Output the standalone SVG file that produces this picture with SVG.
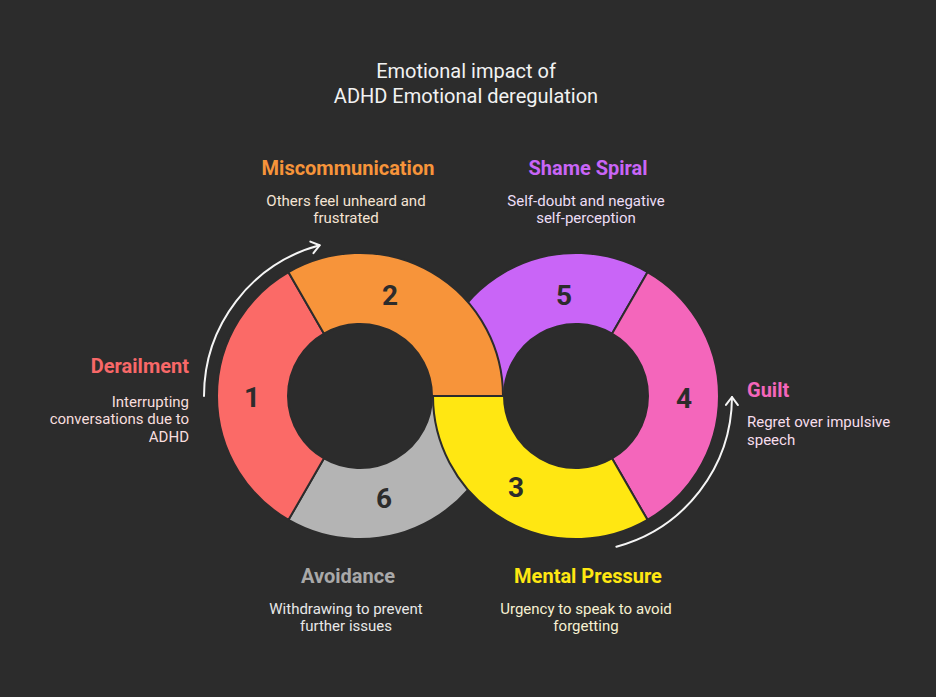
<svg xmlns="http://www.w3.org/2000/svg" width="936" height="697" viewBox="0 0 936 697">
<style>
text{font-family:Roboto,"Liberation Sans",sans-serif}
.t{font-size:20px;fill:#f2f2f2;text-anchor:middle}
.h{font-size:20px;font-weight:bold}
.d{font-size:15px}
.n{font-size:28px;font-weight:bold;fill:#2c2c2c;text-anchor:middle;dominant-baseline:central}
.seg{stroke:#2c2c2c;stroke-width:2;stroke-linejoin:round}
.arr{fill:none;stroke:#f5f5f5;stroke-width:2;stroke-linecap:round}
</style>
<defs>
<marker id="ah" markerUnits="userSpaceOnUse" markerWidth="20" markerHeight="20" viewBox="-10 -10 20 20" refX="0" refY="0" orient="auto">
<path d="M-8,-6 L0,0 L-8,6" fill="none" stroke="#f5f5f5" stroke-width="2" stroke-linecap="round" stroke-linejoin="round"/>
</marker>
</defs>
<rect width="936" height="697" fill="#2c2c2c"/>
<g id="title">
<text class="t" x="466" y="78">Emotional impact of</text>
<text class="t" x="466" y="103">ADHD Emotional deregulation</text>
</g>
<g id="seg5"><path class="seg" fill="#c965f7" d="M433,396 A143,143 0 0 1 647.5,272.16 L612,333.65 A72,72 0 0 0 504,396 Z"/><text class="n" x="564" y="295">5</text></g>
<g id="seg6"><path class="seg" fill="#b4b4b4" d="M503,396 A143,143 0 0 1 288.5,519.84 L324,458.35 A72,72 0 0 0 432,396 Z"/><text class="n" x="384" y="498">6</text></g>
<g id="seg1"><path class="seg" fill="#fb6a67" d="M288.5,519.84 A143,143 0 0 1 288.5,272.16 L324,333.65 A72,72 0 0 0 324,458.35 Z"/><text class="n" x="252" y="397">1</text></g>
<g id="seg4"><path class="seg" fill="#f466bb" d="M647.5,272.16 A143,143 0 0 1 647.5,519.84 L612,458.35 A72,72 0 0 0 612,333.65 Z"/><text class="n" x="684" y="398">4</text></g>
<g id="seg2"><path class="seg" fill="#f7943a" d="M288.5,272.16 A143,143 0 0 1 503,396 L432,396 A72,72 0 0 0 324,333.65 Z"/><text class="n" x="390" y="295">2</text></g>
<g id="seg3"><path class="seg" fill="#ffe712" d="M647.5,519.84 A143,143 0 0 1 433,396 L504,396 A72,72 0 0 0 612,458.35 Z"/><text class="n" x="516" y="487">3</text></g>
<g id="connectors">
<path class="arr" d="M204,396 A156,156 0 0 1 319.6,245.3" marker-end="url(#ah)"/>
<path class="arr" d="M616.4,546.7 A156,156 0 0 0 732,397" marker-end="url(#ah)"/>
</g>
<g id="label2">
<text class="h" x="348" y="175" text-anchor="middle" fill="#f7943a">Miscommunication</text>
<text class="d" x="346" y="206" text-anchor="middle" fill="#f5e4d4">Others feel unheard and</text>
<text class="d" x="346" y="223" text-anchor="middle" fill="#f5e4d4">frustrated</text>
</g>
<g id="label5">
<text class="h" x="588" y="175" text-anchor="middle" fill="#c965f7">Shame Spiral</text>
<text class="d" x="586" y="206" text-anchor="middle" fill="#ecdef7">Self-doubt and negative</text>
<text class="d" x="586" y="223" text-anchor="middle" fill="#ecdef7">self-perception</text>
</g>
<g id="label1">
<text class="h" x="189" y="373" text-anchor="end" fill="#f86868">Derailment</text>
<text class="d" x="189" y="407" text-anchor="end" fill="#f7dede">Interrupting</text>
<text class="d" x="189" y="424" text-anchor="end" fill="#f7dede">conversations due to</text>
<text class="d" x="189" y="442" text-anchor="end" fill="#f7dede">ADHD</text>
</g>
<g id="label4">
<text class="h" x="747" y="397" fill="#f466bb">Guilt</text>
<text class="d" x="747" y="427" fill="#f7deec">Regret over impulsive</text>
<text class="d" x="747" y="445" fill="#f7deec">speech</text>
</g>
<g id="label6">
<text class="h" x="348" y="583" text-anchor="middle" fill="#a9a9a9">Avoidance</text>
<text class="d" x="346" y="614" text-anchor="middle" fill="#e8e8e8">Withdrawing to prevent</text>
<text class="d" x="346" y="631" text-anchor="middle" fill="#e8e8e8">further issues</text>
</g>
<g id="label3">
<text class="h" x="588" y="583" text-anchor="middle" fill="#ffe712">Mental Pressure</text>
<text class="d" x="586" y="614" text-anchor="middle" fill="#f7f1d2">Urgency to speak to avoid</text>
<text class="d" x="586" y="631" text-anchor="middle" fill="#f7f1d2">forgetting</text>
</g>
</svg>
